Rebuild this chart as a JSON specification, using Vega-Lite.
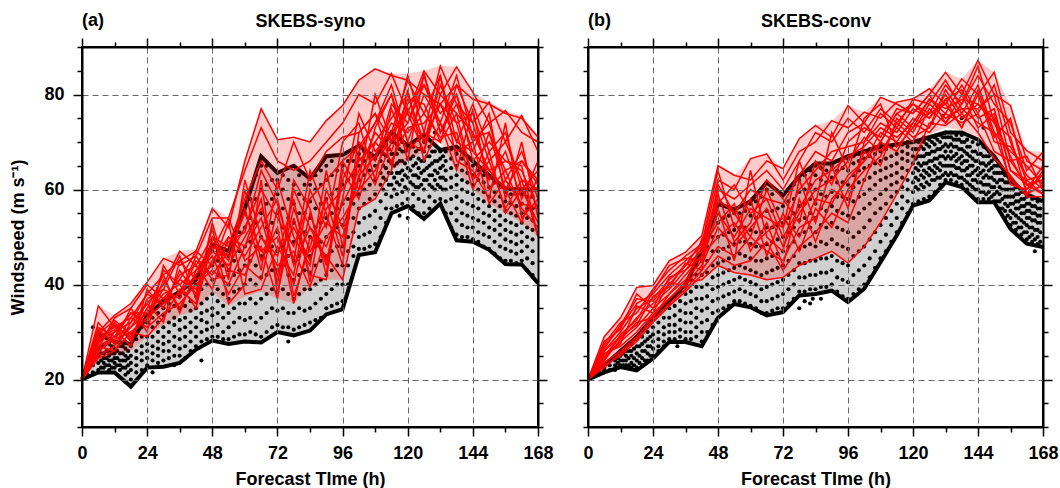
{
"$schema": "https://vega.github.io/schema/vega-lite/v6.json",
"padding": {"left": 8, "top": 11, "right": 2, "bottom": 0},
"autosize": {"type": "pad"},
"background": "white",
"bounds": "flush",
"spacing": 50,
"config": {
 "font": "Liberation Sans",
 "axis": {"labelFont": "Liberation Sans", "labelFontSize": 18, "labelFontWeight": "bold", "labelColor": "black", "titleFont": "Liberation Sans", "titleFontSize": 18, "titleFontWeight": "bold", "titleColor": "black", "tickColor": "black", "tickWidth": 1.5, "domainColor": "black", "domainWidth": 2, "gridColor": "#666666", "gridDash": [6, 4], "gridWidth": 1},
 "title": {"font": "Liberation Sans", "fontSize": 18, "fontWeight": "bold", "color": "black", "anchor": "start", "frame": "group", "offset": -18},
 "view": {"stroke": "black", "strokeWidth": 2}
},
"datasets": {
"aEnv": [{"t":0,"lo":20,"hi":20},{"t":6,"lo":21.5,"hi":29.5},{"t":12,"lo":21.5,"hi":28},{"t":18,"lo":18.5,"hi":27.5},{"t":24,"lo":22.5,"hi":33.5},{"t":30,"lo":22.7,"hi":36.5},{"t":36,"lo":23.5,"hi":38.5},{"t":42,"lo":26.3,"hi":41},{"t":48,"lo":28.2,"hi":48.5},{"t":54,"lo":27.5,"hi":47},{"t":60,"lo":28,"hi":56},{"t":66,"lo":27.8,"hi":67},{"t":72,"lo":30,"hi":63.5},{"t":78,"lo":29.3,"hi":65},{"t":84,"lo":30.3,"hi":62.3},{"t":90,"lo":33.7,"hi":67},{"t":96,"lo":34.8,"hi":67.3},{"t":102,"lo":46.2,"hi":69.2},{"t":108,"lo":46.8,"hi":66.8},{"t":114,"lo":55,"hi":72},{"t":120,"lo":56.5,"hi":69.3},{"t":126,"lo":53.8,"hi":71.5},{"t":132,"lo":57,"hi":68.3},{"t":138,"lo":49.3,"hi":69},{"t":144,"lo":49,"hi":66},{"t":150,"lo":47.3,"hi":63},{"t":156,"lo":44.3,"hi":60.2},{"t":162,"lo":44.2,"hi":60},{"t":168,"lo":40.3,"hi":60}],
"aBand": [{"t":0,"lo":20,"hi":20},{"t":6,"lo":24,"hi":35.5},{"t":12,"lo":25,"hi":33.5},{"t":18,"lo":26,"hi":36},{"t":24,"lo":29,"hi":40.5},{"t":30,"lo":31.5,"hi":45.5},{"t":36,"lo":33.5,"hi":47},{"t":42,"lo":34.5,"hi":47.5},{"t":48,"lo":38.5,"hi":56.5},{"t":54,"lo":35.5,"hi":54},{"t":60,"lo":37.5,"hi":66.5},{"t":66,"lo":38.5,"hi":77},{"t":72,"lo":37,"hi":70.5},{"t":78,"lo":36,"hi":71},{"t":84,"lo":39.5,"hi":70},{"t":90,"lo":41,"hi":74.5},{"t":96,"lo":41,"hi":77.7},{"t":102,"lo":56,"hi":83.3},{"t":108,"lo":58,"hi":85.4},{"t":114,"lo":64,"hi":84.4},{"t":120,"lo":66,"hi":84.4},{"t":126,"lo":68,"hi":85},{"t":132,"lo":70,"hi":86.1},{"t":138,"lo":64,"hi":85.8},{"t":144,"lo":60,"hi":80.5},{"t":150,"lo":57,"hi":78.4},{"t":156,"lo":55,"hi":76.6},{"t":162,"lo":53,"hi":75.6},{"t":168,"lo":50,"hi":71.4}],
"aRed": [
{"m":1,"t":0,"v":20},{"m":1,"t":6,"v":35.5},{"m":1,"t":12,"v":31},{"m":1,"t":18,"v":33},{"m":1,"t":24,"v":38},{"m":1,"t":30,"v":42},{"m":1,"t":36,"v":45},{"m":1,"t":42,"v":47},{"m":1,"t":48,"v":56},{"m":1,"t":54,"v":52},{"m":1,"t":60,"v":66},{"m":1,"t":66,"v":77},{"m":1,"t":72,"v":70.5},{"m":1,"t":78,"v":71},{"m":1,"t":84,"v":70},{"m":1,"t":90,"v":74.5},{"m":1,"t":96,"v":77.7},{"m":1,"t":102,"v":83},{"m":1,"t":108,"v":85.4},{"m":1,"t":114,"v":84},{"m":1,"t":120,"v":83},{"m":1,"t":126,"v":80},{"m":1,"t":132,"v":78},{"m":1,"t":138,"v":82},{"m":1,"t":144,"v":79},{"m":1,"t":150,"v":78},{"m":1,"t":156,"v":76},{"m":1,"t":162,"v":75},{"m":1,"t":168,"v":71},
{"m":2,"t":0,"v":20},{"m":2,"t":6,"v":30},{"m":2,"t":12,"v":33.5},{"m":2,"t":18,"v":36},{"m":2,"t":24,"v":40.5},{"m":2,"t":30,"v":45.5},{"m":2,"t":36,"v":44},{"m":2,"t":42,"v":46},{"m":2,"t":48,"v":54},{"m":2,"t":54,"v":54},{"m":2,"t":60,"v":64},{"m":2,"t":66,"v":73},{"m":2,"t":72,"v":66},{"m":2,"t":78,"v":64},{"m":2,"t":84,"v":66},{"m":2,"t":90,"v":70},{"m":2,"t":96,"v":74},{"m":2,"t":102,"v":80},{"m":2,"t":108,"v":78},{"m":2,"t":114,"v":84.4},{"m":2,"t":120,"v":76},{"m":2,"t":126,"v":85},{"m":2,"t":132,"v":80},{"m":2,"t":138,"v":85.8},{"m":2,"t":144,"v":80.5},{"m":2,"t":150,"v":74},{"m":2,"t":156,"v":76.6},{"m":2,"t":162,"v":72},{"m":2,"t":168,"v":70},
{"m":3,"t":0,"v":20},{"m":3,"t":6,"v":28},{"m":3,"t":12,"v":30},{"m":3,"t":18,"v":32},{"m":3,"t":24,"v":36},{"m":3,"t":30,"v":40},{"m":3,"t":36,"v":47},{"m":3,"t":42,"v":44},{"m":3,"t":48,"v":50},{"m":3,"t":54,"v":48},{"m":3,"t":60,"v":58},{"m":3,"t":66,"v":66},{"m":3,"t":72,"v":60},{"m":3,"t":78,"v":70},{"m":3,"t":84,"v":62},{"m":3,"t":90,"v":68},{"m":3,"t":96,"v":71},{"m":3,"t":102,"v":72},{"m":3,"t":108,"v":76},{"m":3,"t":114,"v":70},{"m":3,"t":120,"v":84},{"m":3,"t":126,"v":72},{"m":3,"t":132,"v":86},{"m":3,"t":138,"v":78},{"m":3,"t":144,"v":74},{"m":3,"t":150,"v":78.4},{"m":3,"t":156,"v":70},{"m":3,"t":162,"v":75.6},{"m":3,"t":168,"v":68},
{"m":4,"t":0,"v":20},{"m":4,"t":6,"v":27},{"m":4,"t":12,"v":29},{"m":4,"t":18,"v":31},{"m":4,"t":24,"v":34},{"m":4,"t":30,"v":38},{"m":4,"t":36,"v":40},{"m":4,"t":42,"v":43},{"m":4,"t":48,"v":48},{"m":4,"t":54,"v":46},{"m":4,"t":60,"v":52},{"m":4,"t":66,"v":60},{"m":4,"t":72,"v":54},{"m":4,"t":78,"v":48},{"m":4,"t":84,"v":58},{"m":4,"t":90,"v":62},{"m":4,"t":96,"v":66},{"m":4,"t":102,"v":69},{"m":4,"t":108,"v":74},{"m":4,"t":114,"v":82},{"m":4,"t":120,"v":70},{"m":4,"t":126,"v":80},{"m":4,"t":132,"v":74},{"m":4,"t":138,"v":84},{"m":4,"t":144,"v":71},{"m":4,"t":150,"v":72},{"m":4,"t":156,"v":64},{"m":4,"t":162,"v":66},{"m":4,"t":168,"v":62},
{"m":5,"t":0,"v":20},{"m":5,"t":6,"v":26},{"m":5,"t":12,"v":28.5},{"m":5,"t":18,"v":30},{"m":5,"t":24,"v":33},{"m":5,"t":30,"v":36},{"m":5,"t":36,"v":38},{"m":5,"t":42,"v":42},{"m":5,"t":48,"v":47},{"m":5,"t":54,"v":44},{"m":5,"t":60,"v":50},{"m":5,"t":66,"v":56},{"m":5,"t":72,"v":47},{"m":5,"t":78,"v":52},{"m":5,"t":84,"v":45},{"m":5,"t":90,"v":56},{"m":5,"t":96,"v":60},{"m":5,"t":102,"v":66},{"m":5,"t":108,"v":70},{"m":5,"t":114,"v":75},{"m":5,"t":120,"v":80},{"m":5,"t":126,"v":70},{"m":5,"t":132,"v":82},{"m":5,"t":138,"v":74},{"m":5,"t":144,"v":76},{"m":5,"t":150,"v":66},{"m":5,"t":156,"v":70},{"m":5,"t":162,"v":62},{"m":5,"t":168,"v":60},
{"m":6,"t":0,"v":20},{"m":6,"t":6,"v":29},{"m":6,"t":12,"v":31},{"m":6,"t":18,"v":29},{"m":6,"t":24,"v":35},{"m":6,"t":30,"v":37},{"m":6,"t":36,"v":41},{"m":6,"t":42,"v":39},{"m":6,"t":48,"v":45},{"m":6,"t":54,"v":50},{"m":6,"t":60,"v":46},{"m":6,"t":66,"v":52},{"m":6,"t":72,"v":58},{"m":6,"t":78,"v":44},{"m":6,"t":84,"v":52},{"m":6,"t":90,"v":48},{"m":6,"t":96,"v":57},{"m":6,"t":102,"v":64},{"m":6,"t":108,"v":72},{"m":6,"t":114,"v":68},{"m":6,"t":120,"v":78},{"m":6,"t":126,"v":82},{"m":6,"t":132,"v":76},{"m":6,"t":138,"v":80},{"m":6,"t":144,"v":70},{"m":6,"t":150,"v":74},{"m":6,"t":156,"v":62},{"m":6,"t":162,"v":68},{"m":6,"t":168,"v":58},
{"m":7,"t":0,"v":20},{"m":7,"t":6,"v":25},{"m":7,"t":12,"v":27},{"m":7,"t":18,"v":33},{"m":7,"t":24,"v":31},{"m":7,"t":30,"v":34},{"m":7,"t":36,"v":36},{"m":7,"t":42,"v":40},{"m":7,"t":48,"v":43},{"m":7,"t":54,"v":40},{"m":7,"t":60,"v":48},{"m":7,"t":66,"v":54},{"m":7,"t":72,"v":42},{"m":7,"t":78,"v":56},{"m":7,"t":84,"v":47},{"m":7,"t":90,"v":53},{"m":7,"t":96,"v":50},{"m":7,"t":102,"v":63},{"m":7,"t":108,"v":67},{"m":7,"t":114,"v":74},{"m":7,"t":120,"v":72},{"m":7,"t":126,"v":76},{"m":7,"t":132,"v":84},{"m":7,"t":138,"v":70},{"m":7,"t":144,"v":78},{"m":7,"t":150,"v":68},{"m":7,"t":156,"v":72},{"m":7,"t":162,"v":60},{"m":7,"t":168,"v":64},
{"m":8,"t":0,"v":20},{"m":8,"t":6,"v":27.5},{"m":8,"t":12,"v":32},{"m":8,"t":18,"v":28},{"m":8,"t":24,"v":37},{"m":8,"t":30,"v":39},{"m":8,"t":36,"v":37},{"m":8,"t":42,"v":45},{"m":8,"t":48,"v":42},{"m":8,"t":54,"v":47},{"m":8,"t":60,"v":55},{"m":8,"t":66,"v":47},{"m":8,"t":72,"v":50},{"m":8,"t":78,"v":40},{"m":8,"t":84,"v":55},{"m":8,"t":90,"v":44},{"m":8,"t":96,"v":62},{"m":8,"t":102,"v":70},{"m":8,"t":108,"v":66},{"m":8,"t":114,"v":78},{"m":8,"t":120,"v":74},{"m":8,"t":126,"v":84},{"m":8,"t":132,"v":72},{"m":8,"t":138,"v":80},{"m":8,"t":144,"v":66},{"m":8,"t":150,"v":70},{"m":8,"t":156,"v":66},{"m":8,"t":162,"v":64},{"m":8,"t":168,"v":56},
{"m":9,"t":0,"v":20},{"m":9,"t":6,"v":24.5},{"m":9,"t":12,"v":26},{"m":9,"t":18,"v":30},{"m":9,"t":24,"v":29},{"m":9,"t":30,"v":33},{"m":9,"t":36,"v":39},{"m":9,"t":42,"v":36},{"m":9,"t":48,"v":50},{"m":9,"t":54,"v":43},{"m":9,"t":60,"v":42},{"m":9,"t":66,"v":50},{"m":9,"t":72,"v":44},{"m":9,"t":78,"v":47},{"m":9,"t":84,"v":39.5},{"m":9,"t":90,"v":50},{"m":9,"t":96,"v":54},{"m":9,"t":102,"v":60},{"m":9,"t":108,"v":64},{"m":9,"t":114,"v":72},{"m":9,"t":120,"v":76},{"m":9,"t":126,"v":68},{"m":9,"t":132,"v":80},{"m":9,"t":138,"v":76},{"m":9,"t":144,"v":72},{"m":9,"t":150,"v":64},{"m":9,"t":156,"v":60},{"m":9,"t":162,"v":66},{"m":9,"t":168,"v":61},
{"m":10,"t":0,"v":20},{"m":10,"t":6,"v":31},{"m":10,"t":12,"v":29},{"m":10,"t":18,"v":34},{"m":10,"t":24,"v":32},{"m":10,"t":30,"v":41},{"m":10,"t":36,"v":35},{"m":10,"t":42,"v":42},{"m":10,"t":48,"v":46},{"m":10,"t":54,"v":38},{"m":10,"t":60,"v":44},{"m":10,"t":66,"v":41},{"m":10,"t":72,"v":56},{"m":10,"t":78,"v":37.5},{"m":10,"t":84,"v":48},{"m":10,"t":90,"v":58},{"m":10,"t":96,"v":46},{"m":10,"t":102,"v":67},{"m":10,"t":108,"v":61},{"m":10,"t":114,"v":70},{"m":10,"t":120,"v":79},{"m":10,"t":126,"v":78},{"m":10,"t":132,"v":70},{"m":10,"t":138,"v":82},{"m":10,"t":144,"v":74},{"m":10,"t":150,"v":62},{"m":10,"t":156,"v":68},{"m":10,"t":162,"v":58},{"m":10,"t":168,"v":66},
{"m":11,"t":0,"v":20},{"m":11,"t":6,"v":28.5},{"m":11,"t":12,"v":30.5},{"m":11,"t":18,"v":27},{"m":11,"t":24,"v":39},{"m":11,"t":30,"v":35},{"m":11,"t":36,"v":43},{"m":11,"t":42,"v":38},{"m":11,"t":48,"v":52},{"m":11,"t":54,"v":36},{"m":11,"t":60,"v":40},{"m":11,"t":66,"v":62},{"m":11,"t":72,"v":38},{"m":11,"t":78,"v":54},{"m":11,"t":84,"v":42},{"m":11,"t":90,"v":41},{"m":11,"t":96,"v":64},{"m":11,"t":102,"v":58},{"m":11,"t":108,"v":70},{"m":11,"t":114,"v":66},{"m":11,"t":120,"v":73},{"m":11,"t":126,"v":74},{"m":11,"t":132,"v":78},{"m":11,"t":138,"v":70},{"m":11,"t":144,"v":68},{"m":11,"t":150,"v":76},{"m":11,"t":156,"v":58},{"m":11,"t":162,"v":70},{"m":11,"t":168,"v":54},
{"m":12,"t":0,"v":20},{"m":12,"t":6,"v":26.5},{"m":12,"t":12,"v":33},{"m":12,"t":18,"v":35},{"m":12,"t":24,"v":30},{"m":12,"t":30,"v":44},{"m":12,"t":36,"v":38},{"m":12,"t":42,"v":46},{"m":12,"t":48,"v":41},{"m":12,"t":54,"v":42},{"m":12,"t":60,"v":60},{"m":12,"t":66,"v":45},{"m":12,"t":72,"v":52},{"m":12,"t":78,"v":36},{"m":12,"t":84,"v":50},{"m":12,"t":90,"v":46},{"m":12,"t":96,"v":41},{"m":12,"t":102,"v":56},{"m":12,"t":108,"v":58},{"m":12,"t":114,"v":64},{"m":12,"t":120,"v":81},{"m":12,"t":126,"v":66},{"m":12,"t":132,"v":74},{"m":12,"t":138,"v":64},{"m":12,"t":144,"v":77},{"m":12,"t":150,"v":60},{"m":12,"t":156,"v":64},{"m":12,"t":162,"v":56},{"m":12,"t":168,"v":52},
{"m":13,"t":0,"v":20},{"m":13,"t":6,"v":30.5},{"m":13,"t":12,"v":27.5},{"m":13,"t":18,"v":31},{"m":13,"t":24,"v":36},{"m":13,"t":30,"v":32},{"m":13,"t":36,"v":45},{"m":13,"t":42,"v":41},{"m":13,"t":48,"v":44},{"m":13,"t":54,"v":53},{"m":13,"t":60,"v":38},{"m":13,"t":66,"v":39},{"m":13,"t":72,"v":48},{"m":13,"t":78,"v":42},{"m":13,"t":84,"v":60},{"m":13,"t":90,"v":52},{"m":13,"t":96,"v":70},{"m":13,"t":102,"v":74},{"m":13,"t":108,"v":62},{"m":13,"t":114,"v":77},{"m":13,"t":120,"v":68},{"m":13,"t":126,"v":72},{"m":13,"t":132,"v":70},{"m":13,"t":138,"v":76},{"m":13,"t":144,"v":62},{"m":13,"t":150,"v":66},{"m":13,"t":156,"v":56},{"m":13,"t":162,"v":62},{"m":13,"t":168,"v":50},
{"m":14,"t":0,"v":20},{"m":14,"t":6,"v":29.5},{"m":14,"t":12,"v":32.5},{"m":14,"t":18,"v":29.5},{"m":14,"t":24,"v":33},{"m":14,"t":30,"v":43},{"m":14,"t":36,"v":40},{"m":14,"t":42,"v":35},{"m":14,"t":48,"v":49},{"m":14,"t":54,"v":45},{"m":14,"t":60,"v":56},{"m":14,"t":66,"v":43},{"m":14,"t":72,"v":62},{"m":14,"t":78,"v":50},{"m":14,"t":84,"v":44},{"m":14,"t":90,"v":64},{"m":14,"t":96,"v":48},{"m":14,"t":102,"v":68},{"m":14,"t":108,"v":74},{"m":14,"t":114,"v":80},{"m":14,"t":120,"v":70},{"m":14,"t":126,"v":68},{"m":14,"t":132,"v":84},{"m":14,"t":138,"v":66},{"m":14,"t":144,"v":64},{"m":14,"t":150,"v":58},{"m":14,"t":156,"v":74},{"m":14,"t":162,"v":54},{"m":14,"t":168,"v":58},
{"m":15,"t":0,"v":20},{"m":15,"t":6,"v":27},{"m":15,"t":12,"v":26},{"m":15,"t":18,"v":32},{"m":15,"t":24,"v":38},{"m":15,"t":30,"v":36},{"m":15,"t":36,"v":42},{"m":15,"t":42,"v":44},{"m":15,"t":48,"v":39},{"m":15,"t":54,"v":50},{"m":15,"t":60,"v":48},{"m":15,"t":66,"v":58},{"m":15,"t":72,"v":40},{"m":15,"t":78,"v":60},{"m":15,"t":84,"v":52},{"m":15,"t":90,"v":45},{"m":15,"t":96,"v":58},{"m":15,"t":102,"v":76},{"m":15,"t":108,"v":68},{"m":15,"t":114,"v":72},{"m":15,"t":120,"v":83},{"m":15,"t":126,"v":76},{"m":15,"t":132,"v":71},{"m":15,"t":138,"v":72},{"m":15,"t":144,"v":60},{"m":15,"t":150,"v":68},{"m":15,"t":156,"v":55},{"m":15,"t":162,"v":60},{"m":15,"t":168,"v":53},
{"m":16,"t":0,"v":20},{"m":16,"t":6,"v":25.5},{"m":16,"t":12,"v":30},{"m":16,"t":18,"v":34},{"m":16,"t":24,"v":34},{"m":16,"t":30,"v":39},{"m":16,"t":36,"v":46},{"m":16,"t":42,"v":37},{"m":16,"t":48,"v":53},{"m":16,"t":54,"v":41},{"m":16,"t":60,"v":62},{"m":16,"t":66,"v":50},{"m":16,"t":72,"v":46},{"m":16,"t":78,"v":58},{"m":16,"t":84,"v":40.5},{"m":16,"t":90,"v":60},{"m":16,"t":96,"v":52},{"m":16,"t":102,"v":62},{"m":16,"t":108,"v":80},{"m":16,"t":114,"v":70},{"m":16,"t":120,"v":74},{"m":16,"t":126,"v":82},{"m":16,"t":132,"v":74},{"m":16,"t":138,"v":68},{"m":16,"t":144,"v":70},{"m":16,"t":150,"v":57},{"m":16,"t":156,"v":62},{"m":16,"t":162,"v":57},{"m":16,"t":168,"v":56},
{"m":17,"t":0,"v":20},{"m":17,"t":6,"v":32},{"m":17,"t":12,"v":28},{"m":17,"t":18,"v":35},{"m":17,"t":24,"v":40},{"m":17,"t":30,"v":37},{"m":17,"t":36,"v":41},{"m":17,"t":42,"v":47},{"m":17,"t":48,"v":44},{"m":17,"t":54,"v":49},{"m":17,"t":60,"v":51},{"m":17,"t":66,"v":64},{"m":17,"t":72,"v":57},{"m":17,"t":78,"v":45},{"m":17,"t":84,"v":64},{"m":17,"t":90,"v":55},{"m":17,"t":96,"v":44},{"m":17,"t":102,"v":72},{"m":17,"t":108,"v":76},{"m":17,"t":114,"v":65},{"m":17,"t":120,"v":77},{"m":17,"t":126,"v":70},{"m":17,"t":132,"v":78},{"m":17,"t":138,"v":74},{"m":17,"t":144,"v":62},{"m":17,"t":150,"v":72},{"m":17,"t":156,"v":60},{"m":17,"t":162,"v":53},{"m":17,"t":168,"v":63},
{"m":18,"t":0,"v":20},{"m":18,"t":6,"v":28},{"m":18,"t":12,"v":31.5},{"m":18,"t":18,"v":28.5},{"m":18,"t":24,"v":35},{"m":18,"t":30,"v":42},{"m":18,"t":36,"v":34},{"m":18,"t":42,"v":43},{"m":18,"t":48,"v":47},{"m":18,"t":54,"v":54},{"m":18,"t":60,"v":45},{"m":18,"t":66,"v":48},{"m":18,"t":72,"v":37},{"m":18,"t":78,"v":62},{"m":18,"t":84,"v":56},{"m":18,"t":90,"v":42},{"m":18,"t":96,"v":66},{"m":18,"t":102,"v":60},{"m":18,"t":108,"v":73},{"m":18,"t":114,"v":80},{"m":18,"t":120,"v":66},{"m":18,"t":126,"v":84.5},{"m":18,"t":132,"v":72},{"m":18,"t":138,"v":78},{"m":18,"t":144,"v":68},{"m":18,"t":150,"v":64},{"m":18,"t":156,"v":66},{"m":18,"t":162,"v":65},{"m":18,"t":168,"v":50}
],
"aDot": [
{"t":2,"v":21},{"t":2,"v":22},{"t":2,"v":23},
{"t":4,"v":21.5},{"t":4,"v":23},{"t":4,"v":24.5},{"t":4,"v":26},{"t":4,"v":31},
{"t":6,"v":22},{"t":6,"v":23.5},{"t":6,"v":25},{"t":6,"v":26.5},{"t":6,"v":28},
{"t":7,"v":22.5},{"t":7,"v":24},{"t":7,"v":25.5},{"t":7,"v":27},
{"t":8,"v":22.5},{"t":8,"v":23.5},{"t":8,"v":24.5},{"t":8,"v":25.5},{"t":8,"v":27},
{"t":9,"v":23},{"t":9,"v":24.5},{"t":9,"v":26},
{"t":10,"v":22},{"t":10,"v":23},{"t":10,"v":24},{"t":10,"v":25},{"t":10,"v":26},{"t":10,"v":27.5},
{"t":11,"v":22.5},{"t":11,"v":24},{"t":11,"v":25.5},{"t":11,"v":27},
{"t":12,"v":22.5},{"t":12,"v":23.5},{"t":12,"v":24.5},{"t":12,"v":25.5},{"t":12,"v":26.5},{"t":12,"v":28},
{"t":13,"v":23},{"t":13,"v":24.5},{"t":13,"v":26},
{"t":14,"v":22},{"t":14,"v":23},{"t":14,"v":24},{"t":14,"v":25.5},{"t":14,"v":27},
{"t":15,"v":22.5},{"t":15,"v":24},{"t":15,"v":25.5},{"t":15,"v":27},
{"t":16,"v":21},{"t":16,"v":22.5},{"t":16,"v":24},{"t":16,"v":25},{"t":16,"v":26.5},{"t":16,"v":28},
{"t":17,"v":21.5},{"t":17,"v":23},{"t":17,"v":24.5},{"t":17,"v":26},
{"t":18,"v":20},{"t":18,"v":22},{"t":18,"v":23.5},{"t":18,"v":25},{"t":18,"v":27},
{"t":20,"v":21.5},{"t":20,"v":23},{"t":20,"v":24.5},{"t":20,"v":26},{"t":20,"v":28.5},
{"t":22,"v":22},{"t":22,"v":24},{"t":22,"v":25.5},{"t":22,"v":27},{"t":22,"v":29},{"t":22,"v":31},
{"t":24,"v":23},{"t":24,"v":24.5},{"t":24,"v":26},{"t":24,"v":27.5},{"t":24,"v":29},{"t":24,"v":32},
{"t":26,"v":21.5},{"t":26,"v":24},{"t":26,"v":25.5},{"t":26,"v":27},{"t":26,"v":29},{"t":26,"v":31},{"t":26,"v":33},
{"t":28,"v":23.5},{"t":28,"v":25},{"t":28,"v":26.5},{"t":28,"v":28},{"t":28,"v":30},{"t":28,"v":32},{"t":28,"v":34},
{"t":30,"v":24},{"t":30,"v":26},{"t":30,"v":27.5},{"t":30,"v":29},{"t":30,"v":31},{"t":30,"v":33.5},{"t":30,"v":35},
{"t":32,"v":24.5},{"t":32,"v":26},{"t":32,"v":28},{"t":32,"v":30},{"t":32,"v":32},{"t":32,"v":34.5},{"t":32,"v":36},
{"t":34,"v":23},{"t":34,"v":25},{"t":34,"v":27},{"t":34,"v":29},{"t":34,"v":31.5},{"t":34,"v":33},{"t":34,"v":35.5},
{"t":36,"v":25},{"t":36,"v":26.5},{"t":36,"v":28.5},{"t":36,"v":30.5},{"t":36,"v":32.5},{"t":36,"v":35},{"t":36,"v":37.5},
{"t":38,"v":24.5},{"t":38,"v":27},{"t":38,"v":29},{"t":38,"v":31},{"t":38,"v":33},{"t":38,"v":35.5},{"t":38,"v":38},
{"t":40,"v":26},{"t":40,"v":28},{"t":40,"v":30},{"t":40,"v":32},{"t":40,"v":34.5},{"t":40,"v":36.5},{"t":40,"v":39},
{"t":42,"v":27},{"t":42,"v":29},{"t":42,"v":31},{"t":42,"v":33},{"t":42,"v":35},{"t":42,"v":37.5},{"t":42,"v":40},
{"t":44,"v":24},{"t":44,"v":28},{"t":44,"v":30},{"t":44,"v":32.5},{"t":44,"v":34},{"t":44,"v":36},{"t":44,"v":39},{"t":44,"v":42},
{"t":46,"v":28.5},{"t":46,"v":30.5},{"t":46,"v":32},{"t":46,"v":34.5},{"t":46,"v":37},{"t":46,"v":40},{"t":46,"v":43},{"t":46,"v":45},
{"t":48,"v":29},{"t":48,"v":31},{"t":48,"v":33.5},{"t":48,"v":35},{"t":48,"v":38},{"t":48,"v":41},{"t":48,"v":44},{"t":48,"v":47},
{"t":50,"v":29},{"t":50,"v":31.5},{"t":50,"v":34},{"t":50,"v":36.5},{"t":50,"v":39},{"t":50,"v":42},{"t":50,"v":45},{"t":50,"v":47},
{"t":52,"v":28.5},{"t":52,"v":30},{"t":52,"v":33},{"t":52,"v":35.5},{"t":52,"v":38},{"t":52,"v":41.5},{"t":52,"v":44},{"t":52,"v":46.5},
{"t":54,"v":28.5},{"t":54,"v":31},{"t":54,"v":34},{"t":54,"v":37},{"t":54,"v":40},{"t":54,"v":43},{"t":54,"v":46},
{"t":56,"v":29},{"t":56,"v":32},{"t":56,"v":35},{"t":56,"v":38.5},{"t":56,"v":42},{"t":56,"v":45},{"t":56,"v":49},
{"t":58,"v":29.5},{"t":58,"v":33},{"t":58,"v":36},{"t":58,"v":39},{"t":58,"v":43},{"t":58,"v":47},{"t":58,"v":51},
{"t":60,"v":29.5},{"t":60,"v":32.5},{"t":60,"v":36},{"t":60,"v":40},{"t":60,"v":44},{"t":60,"v":48},{"t":60,"v":52},{"t":60,"v":55},
{"t":62,"v":30},{"t":62,"v":33},{"t":62,"v":37},{"t":62,"v":41},{"t":62,"v":45},{"t":62,"v":49},{"t":62,"v":54},{"t":62,"v":58},
{"t":64,"v":29.5},{"t":64,"v":32},{"t":64,"v":36},{"t":64,"v":40},{"t":64,"v":44},{"t":64,"v":48},{"t":64,"v":53},{"t":64,"v":58},{"t":64,"v":63},
{"t":66,"v":29},{"t":66,"v":33},{"t":66,"v":37},{"t":66,"v":41.5},{"t":66,"v":46},{"t":66,"v":50},{"t":66,"v":55},{"t":66,"v":60},{"t":66,"v":65},
{"t":68,"v":30},{"t":68,"v":34},{"t":68,"v":38},{"t":68,"v":42},{"t":68,"v":47},{"t":68,"v":52},{"t":68,"v":57},{"t":68,"v":61},{"t":68,"v":65},
{"t":70,"v":31},{"t":70,"v":35},{"t":70,"v":39},{"t":70,"v":43},{"t":70,"v":48},{"t":70,"v":53},{"t":70,"v":58},{"t":70,"v":62},
{"t":72,"v":31.5},{"t":72,"v":34.5},{"t":72,"v":38.5},{"t":72,"v":43},{"t":72,"v":47},{"t":72,"v":51},{"t":72,"v":55},{"t":72,"v":59},{"t":72,"v":62},
{"t":74,"v":31},{"t":74,"v":35},{"t":74,"v":39},{"t":74,"v":44},{"t":74,"v":48},{"t":74,"v":52},{"t":74,"v":56},{"t":74,"v":60},{"t":74,"v":63},
{"t":76,"v":28},{"t":76,"v":31},{"t":76,"v":34},{"t":76,"v":38},{"t":76,"v":42},{"t":76,"v":46},{"t":76,"v":50},{"t":76,"v":54},{"t":76,"v":58},{"t":76,"v":62},
{"t":78,"v":30.5},{"t":78,"v":34},{"t":78,"v":37},{"t":78,"v":41},{"t":78,"v":45},{"t":78,"v":49},{"t":78,"v":53},{"t":78,"v":57},{"t":78,"v":61},
{"t":80,"v":31},{"t":80,"v":35},{"t":80,"v":38},{"t":80,"v":42},{"t":80,"v":46},{"t":80,"v":50},{"t":80,"v":55},{"t":80,"v":59},{"t":80,"v":63},
{"t":82,"v":31.5},{"t":82,"v":34.5},{"t":82,"v":39},{"t":82,"v":43},{"t":82,"v":47},{"t":82,"v":51},{"t":82,"v":55},{"t":82,"v":58},{"t":82,"v":61},
{"t":84,"v":32},{"t":84,"v":35},{"t":84,"v":39},{"t":84,"v":42.5},{"t":84,"v":46},{"t":84,"v":50},{"t":84,"v":54},{"t":84,"v":57.5},{"t":84,"v":61},
{"t":86,"v":32.5},{"t":86,"v":36},{"t":86,"v":40},{"t":86,"v":44},{"t":86,"v":48},{"t":86,"v":52},{"t":86,"v":56},{"t":86,"v":60},{"t":86,"v":63},
{"t":88,"v":33},{"t":88,"v":37},{"t":88,"v":41},{"t":88,"v":45},{"t":88,"v":49},{"t":88,"v":53},{"t":88,"v":57},{"t":88,"v":61},{"t":88,"v":64},
{"t":90,"v":35},{"t":90,"v":38},{"t":90,"v":42},{"t":90,"v":46},{"t":90,"v":50},{"t":90,"v":54},{"t":90,"v":58},{"t":90,"v":62},{"t":90,"v":65},
{"t":92,"v":35.5},{"t":92,"v":39},{"t":92,"v":43},{"t":92,"v":47},{"t":92,"v":51},{"t":92,"v":55},{"t":92,"v":59},{"t":92,"v":63},{"t":92,"v":66},
{"t":94,"v":36},{"t":94,"v":40},{"t":94,"v":44},{"t":94,"v":48},{"t":94,"v":52},{"t":94,"v":56},{"t":94,"v":60},{"t":94,"v":64},
{"t":96,"v":36.5},{"t":96,"v":40},{"t":96,"v":44},{"t":96,"v":48},{"t":96,"v":52.5},{"t":96,"v":57},{"t":96,"v":61},{"t":96,"v":65},
{"t":98,"v":40},{"t":98,"v":44},{"t":98,"v":47},{"t":98,"v":50},{"t":98,"v":54},{"t":98,"v":58},{"t":98,"v":62},{"t":98,"v":66},
{"t":100,"v":46},{"t":100,"v":48},{"t":100,"v":51},{"t":100,"v":54},{"t":100,"v":57},{"t":100,"v":60},{"t":100,"v":63},{"t":100,"v":66},{"t":100,"v":68},
{"t":102,"v":47.5},{"t":102,"v":50},{"t":102,"v":53},{"t":102,"v":56},{"t":102,"v":59},{"t":102,"v":62},{"t":102,"v":65},{"t":102,"v":67.5},
{"t":104,"v":47.5},{"t":104,"v":50.5},{"t":104,"v":54},{"t":104,"v":57},{"t":104,"v":60},{"t":104,"v":63},{"t":104,"v":66},{"t":104,"v":68},
{"t":106,"v":48},{"t":106,"v":51},{"t":106,"v":54.5},{"t":106,"v":58},{"t":106,"v":61},{"t":106,"v":64},{"t":106,"v":67},
{"t":108,"v":48.5},{"t":108,"v":52},{"t":108,"v":55.5},{"t":108,"v":59},{"t":108,"v":62},{"t":108,"v":65},{"t":108,"v":66.5},
{"t":110,"v":50},{"t":110,"v":54},{"t":110,"v":57.5},{"t":110,"v":61},{"t":110,"v":63.5},{"t":110,"v":66},{"t":110,"v":68},
{"t":111,"v":60},{"t":111,"v":62.5},{"t":111,"v":65},{"t":111,"v":67.5},
{"t":112,"v":53},{"t":112,"v":56},{"t":112,"v":59},{"t":112,"v":62},{"t":112,"v":64.5},{"t":112,"v":67},{"t":112,"v":69.5},
{"t":113,"v":61},{"t":113,"v":63.5},{"t":113,"v":66},{"t":113,"v":68.5},
{"t":114,"v":56},{"t":114,"v":58.5},{"t":114,"v":61},{"t":114,"v":63.5},{"t":114,"v":65.5},{"t":114,"v":67.5},{"t":114,"v":70},
{"t":115,"v":60},{"t":115,"v":62.5},{"t":115,"v":65},{"t":115,"v":67.5},{"t":115,"v":70},
{"t":116,"v":56.5},{"t":116,"v":59},{"t":116,"v":61.5},{"t":116,"v":63.5},{"t":116,"v":65.5},{"t":116,"v":67.5},{"t":116,"v":69.5},
{"t":117,"v":54.5},{"t":117,"v":61},{"t":117,"v":63.5},{"t":117,"v":66},{"t":117,"v":68.5},
{"t":118,"v":57},{"t":118,"v":59.5},{"t":118,"v":62},{"t":118,"v":64},{"t":118,"v":66},{"t":118,"v":68},{"t":118,"v":70},
{"t":119,"v":60.5},{"t":119,"v":63},{"t":119,"v":65.5},{"t":119,"v":68},
{"t":120,"v":54},{"t":120,"v":58},{"t":120,"v":60},{"t":120,"v":62.5},{"t":120,"v":64.5},{"t":120,"v":66.5},{"t":120,"v":68.5},
{"t":121,"v":61.5},{"t":121,"v":64},{"t":121,"v":66.5},{"t":121,"v":69},
{"t":122,"v":56.5},{"t":122,"v":59},{"t":122,"v":61},{"t":122,"v":63},{"t":122,"v":65},{"t":122,"v":67},{"t":122,"v":69},
{"t":123,"v":60.5},{"t":123,"v":63},{"t":123,"v":65.5},{"t":123,"v":68},
{"t":124,"v":55},{"t":124,"v":58},{"t":124,"v":60.5},{"t":124,"v":62.5},{"t":124,"v":64.5},{"t":124,"v":66.5},{"t":124,"v":68.5},{"t":124,"v":70.5},
{"t":125,"v":61},{"t":125,"v":63.5},{"t":125,"v":66},{"t":125,"v":68.5},
{"t":126,"v":55},{"t":126,"v":57.5},{"t":126,"v":60},{"t":126,"v":62},{"t":126,"v":64},{"t":126,"v":66},{"t":126,"v":68},{"t":126,"v":70},
{"t":127,"v":62},{"t":127,"v":64.5},{"t":127,"v":67},
{"t":128,"v":56},{"t":128,"v":58.5},{"t":128,"v":61},{"t":128,"v":63},{"t":128,"v":65},{"t":128,"v":67},{"t":128,"v":69},
{"t":129,"v":60.5},{"t":129,"v":63},{"t":129,"v":65.5},{"t":129,"v":68},
{"t":130,"v":57.5},{"t":130,"v":60},{"t":130,"v":62},{"t":130,"v":64},{"t":130,"v":66},{"t":130,"v":68},{"t":130,"v":72},
{"t":131,"v":61},{"t":131,"v":63.5},{"t":131,"v":66},
{"t":132,"v":58},{"t":132,"v":60.5},{"t":132,"v":62.5},{"t":132,"v":64.5},{"t":132,"v":66.5},{"t":132,"v":68},
{"t":133,"v":60},{"t":133,"v":62.5},{"t":133,"v":65},{"t":133,"v":67},
{"t":134,"v":55},{"t":134,"v":57.5},{"t":134,"v":60},{"t":134,"v":62},{"t":134,"v":64},{"t":134,"v":66},{"t":134,"v":68},
{"t":136,"v":52},{"t":136,"v":55},{"t":136,"v":58},{"t":136,"v":60.5},{"t":136,"v":62.5},{"t":136,"v":64.5},{"t":136,"v":66.5},{"t":136,"v":68.5},
{"t":138,"v":50.5},{"t":138,"v":53.5},{"t":138,"v":56},{"t":138,"v":58.5},{"t":138,"v":61},{"t":138,"v":63},{"t":138,"v":65},{"t":138,"v":67.5},
{"t":140,"v":50},{"t":140,"v":52.5},{"t":140,"v":55},{"t":140,"v":57.5},{"t":140,"v":60},{"t":140,"v":62},{"t":140,"v":64},{"t":140,"v":66.5},
{"t":142,"v":50},{"t":142,"v":52},{"t":142,"v":54.5},{"t":142,"v":57},{"t":142,"v":59.5},{"t":142,"v":61.5},{"t":142,"v":63.5},{"t":142,"v":65.5},
{"t":144,"v":49.5},{"t":144,"v":52},{"t":144,"v":54},{"t":144,"v":56.5},{"t":144,"v":59},{"t":144,"v":61},{"t":144,"v":63},{"t":144,"v":65},
{"t":146,"v":49},{"t":146,"v":51},{"t":146,"v":53.5},{"t":146,"v":56},{"t":146,"v":58},{"t":146,"v":60},{"t":146,"v":62},{"t":146,"v":64},
{"t":148,"v":48},{"t":148,"v":50.5},{"t":148,"v":53},{"t":148,"v":55},{"t":148,"v":57.5},{"t":148,"v":59.5},{"t":148,"v":61.5},{"t":148,"v":63},
{"t":150,"v":47.5},{"t":150,"v":50},{"t":150,"v":52},{"t":150,"v":54.5},{"t":150,"v":56.5},{"t":150,"v":58.5},{"t":150,"v":60.5},{"t":150,"v":62.5},
{"t":152,"v":46.5},{"t":152,"v":49},{"t":152,"v":51.5},{"t":152,"v":53.5},{"t":152,"v":55.5},{"t":152,"v":57.5},{"t":152,"v":59.5},{"t":152,"v":61.5},
{"t":154,"v":45.5},{"t":154,"v":48},{"t":154,"v":50.5},{"t":154,"v":52.5},{"t":154,"v":54.5},{"t":154,"v":56.5},{"t":154,"v":58.5},{"t":154,"v":60.5},
{"t":156,"v":45},{"t":156,"v":47.5},{"t":156,"v":49.5},{"t":156,"v":51.5},{"t":156,"v":53.5},{"t":156,"v":55.5},{"t":156,"v":57.5},{"t":156,"v":59.5},
{"t":158,"v":45},{"t":158,"v":47},{"t":158,"v":49},{"t":158,"v":51},{"t":158,"v":53},{"t":158,"v":55},{"t":158,"v":57},{"t":158,"v":59},
{"t":160,"v":44.5},{"t":160,"v":46.5},{"t":160,"v":48.5},{"t":160,"v":50.5},{"t":160,"v":52.5},{"t":160,"v":54.5},{"t":160,"v":56.5},{"t":160,"v":59},
{"t":162,"v":45},{"t":162,"v":47},{"t":162,"v":49},{"t":162,"v":51},{"t":162,"v":53},{"t":162,"v":55},{"t":162,"v":57},{"t":162,"v":59},
{"t":164,"v":43},{"t":164,"v":45.5},{"t":164,"v":48},{"t":164,"v":50},{"t":164,"v":52},{"t":164,"v":54},{"t":164,"v":56},{"t":164,"v":58.5},
{"t":166,"v":42},{"t":166,"v":44.5},{"t":166,"v":47},{"t":166,"v":49.5},{"t":166,"v":51.5},{"t":166,"v":53.5},{"t":166,"v":56},{"t":166,"v":58.5}
],
"bEnv": [{"t":0,"lo":20,"hi":20},{"t":6,"lo":21.5,"hi":23},{"t":12,"lo":22.6,"hi":26},{"t":18,"lo":21.9,"hi":29},{"t":24,"lo":24.4,"hi":33},{"t":30,"lo":27.9,"hi":36.5},{"t":36,"lo":27.9,"hi":40},{"t":42,"lo":27,"hi":47},{"t":48,"lo":33,"hi":57},{"t":54,"lo":35.9,"hi":55.8},{"t":60,"lo":35.2,"hi":57.5},{"t":66,"lo":33.5,"hi":61.5},{"t":72,"lo":34.2,"hi":58.8},{"t":78,"lo":37.7,"hi":62.8},{"t":84,"lo":38,"hi":65.5},{"t":90,"lo":38.7,"hi":65.5},{"t":96,"lo":36.3,"hi":67},{"t":102,"lo":39.1,"hi":68},{"t":108,"lo":44.7,"hi":69},{"t":114,"lo":50.3,"hi":69.5},{"t":120,"lo":56.6,"hi":70},{"t":126,"lo":57.7,"hi":71},{"t":132,"lo":61.5,"hi":72},{"t":138,"lo":60.5,"hi":72},{"t":144,"lo":57.3,"hi":70.5},{"t":150,"lo":57.3,"hi":67},{"t":156,"lo":51.7,"hi":62},{"t":162,"lo":48.6,"hi":59},{"t":168,"lo":47.9,"hi":57.5}],
"bBand": [{"t":0,"lo":20,"hi":20},{"t":6,"lo":22.5,"hi":29},{"t":12,"lo":25,"hi":33},{"t":18,"lo":28,"hi":39.4},{"t":24,"lo":32,"hi":39.8},{"t":30,"lo":35.5,"hi":45},{"t":36,"lo":38.5,"hi":46.8},{"t":42,"lo":41,"hi":50.3},{"t":48,"lo":44,"hi":65},{"t":54,"lo":42.5,"hi":63},{"t":60,"lo":42,"hi":66.5},{"t":66,"lo":41,"hi":67.5},{"t":72,"lo":41.5,"hi":64.4},{"t":78,"lo":44,"hi":70.7},{"t":84,"lo":45.5,"hi":73.5},{"t":90,"lo":47,"hi":74.5},{"t":96,"lo":44.5,"hi":77.7},{"t":102,"lo":48,"hi":76.3},{"t":108,"lo":53,"hi":79.4},{"t":114,"lo":59,"hi":78.4},{"t":120,"lo":65.5,"hi":79.1},{"t":126,"lo":71.5,"hi":81.2},{"t":132,"lo":73,"hi":84.7},{"t":138,"lo":72.5,"hi":83.3},{"t":144,"lo":71,"hi":87.2},{"t":150,"lo":66.5,"hi":84.7},{"t":156,"lo":61,"hi":77.7},{"t":162,"lo":58.5,"hi":68.2},{"t":168,"lo":58.5,"hi":67.9}],
"bRed": [
{"m":1,"t":0,"v":20},{"m":1,"t":6,"v":29},{"m":1,"t":12,"v":33},{"m":1,"t":18,"v":39.4},{"m":1,"t":24,"v":39.8},{"m":1,"t":30,"v":45},{"m":1,"t":36,"v":46.8},{"m":1,"t":42,"v":50.3},{"m":1,"t":48,"v":65},{"m":1,"t":54,"v":63},{"m":1,"t":60,"v":62},{"m":1,"t":66,"v":66},{"m":1,"t":72,"v":64.4},{"m":1,"t":78,"v":70.7},{"m":1,"t":84,"v":73.5},{"m":1,"t":90,"v":71},{"m":1,"t":96,"v":77.7},{"m":1,"t":102,"v":74},{"m":1,"t":108,"v":79.4},{"m":1,"t":114,"v":78},{"m":1,"t":120,"v":76},{"m":1,"t":126,"v":80},{"m":1,"t":132,"v":84.7},{"m":1,"t":138,"v":80},{"m":1,"t":144,"v":87.2},{"m":1,"t":150,"v":80},{"m":1,"t":156,"v":77.7},{"m":1,"t":162,"v":66},{"m":1,"t":168,"v":64},
{"m":2,"t":0,"v":20},{"m":2,"t":6,"v":27},{"m":2,"t":12,"v":31},{"m":2,"t":18,"v":36},{"m":2,"t":24,"v":38},{"m":2,"t":30,"v":42},{"m":2,"t":36,"v":45},{"m":2,"t":42,"v":48},{"m":2,"t":48,"v":62},{"m":2,"t":54,"v":60},{"m":2,"t":60,"v":66.5},{"m":2,"t":66,"v":67.5},{"m":2,"t":72,"v":62},{"m":2,"t":78,"v":68},{"m":2,"t":84,"v":70},{"m":2,"t":90,"v":74.5},{"m":2,"t":96,"v":73},{"m":2,"t":102,"v":76.3},{"m":2,"t":108,"v":75},{"m":2,"t":114,"v":78.4},{"m":2,"t":120,"v":79.1},{"m":2,"t":126,"v":81.2},{"m":2,"t":132,"v":78},{"m":2,"t":138,"v":83.3},{"m":2,"t":144,"v":80},{"m":2,"t":150,"v":84.7},{"m":2,"t":156,"v":72},{"m":2,"t":162,"v":68.2},{"m":2,"t":168,"v":66},
{"m":3,"t":0,"v":20},{"m":3,"t":6,"v":26},{"m":3,"t":12,"v":30},{"m":3,"t":18,"v":35},{"m":3,"t":24,"v":37},{"m":3,"t":30,"v":41},{"m":3,"t":36,"v":44},{"m":3,"t":42,"v":47},{"m":3,"t":48,"v":60},{"m":3,"t":54,"v":58},{"m":3,"t":60,"v":61},{"m":3,"t":66,"v":64},{"m":3,"t":72,"v":60},{"m":3,"t":78,"v":66},{"m":3,"t":84,"v":72},{"m":3,"t":90,"v":70},{"m":3,"t":96,"v":75},{"m":3,"t":102,"v":72},{"m":3,"t":108,"v":77},{"m":3,"t":114,"v":74},{"m":3,"t":120,"v":78},{"m":3,"t":126,"v":76},{"m":3,"t":132,"v":82},{"m":3,"t":138,"v":78},{"m":3,"t":144,"v":84},{"m":3,"t":150,"v":78},{"m":3,"t":156,"v":74},{"m":3,"t":162,"v":64},{"m":3,"t":168,"v":67.9},
{"m":4,"t":0,"v":20},{"m":4,"t":6,"v":25},{"m":4,"t":12,"v":29},{"m":4,"t":18,"v":33},{"m":4,"t":24,"v":36},{"m":4,"t":30,"v":39},{"m":4,"t":36,"v":43},{"m":4,"t":42,"v":46},{"m":4,"t":48,"v":58},{"m":4,"t":54,"v":55},{"m":4,"t":60,"v":60},{"m":4,"t":66,"v":58},{"m":4,"t":72,"v":57},{"m":4,"t":78,"v":63},{"m":4,"t":84,"v":68},{"m":4,"t":90,"v":66},{"m":4,"t":96,"v":72},{"m":4,"t":102,"v":74},{"m":4,"t":108,"v":70},{"m":4,"t":114,"v":76},{"m":4,"t":120,"v":73},{"m":4,"t":126,"v":79},{"m":4,"t":132,"v":76},{"m":4,"t":138,"v":82},{"m":4,"t":144,"v":76},{"m":4,"t":150,"v":82},{"m":4,"t":156,"v":70},{"m":4,"t":162,"v":62},{"m":4,"t":168,"v":63},
{"m":5,"t":0,"v":20},{"m":5,"t":6,"v":24.5},{"m":5,"t":12,"v":28},{"m":5,"t":18,"v":31},{"m":5,"t":24,"v":35},{"m":5,"t":30,"v":38},{"m":5,"t":36,"v":41},{"m":5,"t":42,"v":45},{"m":5,"t":48,"v":55},{"m":5,"t":54,"v":50},{"m":5,"t":60,"v":56},{"m":5,"t":66,"v":54},{"m":5,"t":72,"v":52},{"m":5,"t":78,"v":60},{"m":5,"t":84,"v":64},{"m":5,"t":90,"v":68},{"m":5,"t":96,"v":69},{"m":5,"t":102,"v":70},{"m":5,"t":108,"v":74},{"m":5,"t":114,"v":72},{"m":5,"t":120,"v":77},{"m":5,"t":126,"v":75},{"m":5,"t":132,"v":80},{"m":5,"t":138,"v":75},{"m":5,"t":144,"v":78},{"m":5,"t":150,"v":74},{"m":5,"t":156,"v":67},{"m":5,"t":162,"v":60},{"m":5,"t":168,"v":65},
{"m":6,"t":0,"v":20},{"m":6,"t":6,"v":25.5},{"m":6,"t":12,"v":27},{"m":6,"t":18,"v":30},{"m":6,"t":24,"v":34},{"m":6,"t":30,"v":37},{"m":6,"t":36,"v":40},{"m":6,"t":42,"v":44},{"m":6,"t":48,"v":52},{"m":6,"t":54,"v":48},{"m":6,"t":60,"v":52},{"m":6,"t":66,"v":56},{"m":6,"t":72,"v":48},{"m":6,"t":78,"v":55},{"m":6,"t":84,"v":60},{"m":6,"t":90,"v":62},{"m":6,"t":96,"v":66},{"m":6,"t":102,"v":71},{"m":6,"t":108,"v":68},{"m":6,"t":114,"v":73},{"m":6,"t":120,"v":70},{"m":6,"t":126,"v":77},{"m":6,"t":132,"v":74},{"m":6,"t":138,"v":80},{"m":6,"t":144,"v":73},{"m":6,"t":150,"v":76},{"m":6,"t":156,"v":64},{"m":6,"t":162,"v":61},{"m":6,"t":168,"v":62},
{"m":7,"t":0,"v":20},{"m":7,"t":6,"v":24},{"m":7,"t":12,"v":28.5},{"m":7,"t":18,"v":32},{"m":7,"t":24,"v":33},{"m":7,"t":30,"v":38},{"m":7,"t":36,"v":42},{"m":7,"t":42,"v":46},{"m":7,"t":48,"v":50},{"m":7,"t":54,"v":53},{"m":7,"t":60,"v":48},{"m":7,"t":66,"v":51},{"m":7,"t":72,"v":54},{"m":7,"t":78,"v":50},{"m":7,"t":84,"v":58},{"m":7,"t":90,"v":57},{"m":7,"t":96,"v":63},{"m":7,"t":102,"v":66},{"m":7,"t":108,"v":72},{"m":7,"t":114,"v":70},{"m":7,"t":120,"v":75},{"m":7,"t":126,"v":73},{"m":7,"t":132,"v":79},{"m":7,"t":138,"v":73},{"m":7,"t":144,"v":80},{"m":7,"t":150,"v":70},{"m":7,"t":156,"v":69},{"m":7,"t":162,"v":63},{"m":7,"t":168,"v":60},
{"m":8,"t":0,"v":20},{"m":8,"t":6,"v":23.5},{"m":8,"t":12,"v":26},{"m":8,"t":18,"v":29},{"m":8,"t":24,"v":32.5},{"m":8,"t":30,"v":36},{"m":8,"t":36,"v":39},{"m":8,"t":42,"v":43},{"m":8,"t":48,"v":48},{"m":8,"t":54,"v":46},{"m":8,"t":60,"v":50},{"m":8,"t":66,"v":47},{"m":8,"t":72,"v":45},{"m":8,"t":78,"v":52},{"m":8,"t":84,"v":54},{"m":8,"t":90,"v":60},{"m":8,"t":96,"v":58},{"m":8,"t":102,"v":68},{"m":8,"t":108,"v":65},{"m":8,"t":114,"v":75},{"m":8,"t":120,"v":72},{"m":8,"t":126,"v":78},{"m":8,"t":132,"v":75},{"m":8,"t":138,"v":77},{"m":8,"t":144,"v":74},{"m":8,"t":150,"v":72},{"m":8,"t":156,"v":62},{"m":8,"t":162,"v":59},{"m":8,"t":168,"v":61},
{"m":9,"t":0,"v":20},{"m":9,"t":6,"v":23},{"m":9,"t":12,"v":25},{"m":9,"t":18,"v":28},{"m":9,"t":24,"v":32},{"m":9,"t":30,"v":35.5},{"m":9,"t":36,"v":38.5},{"m":9,"t":42,"v":42},{"m":9,"t":48,"v":46},{"m":9,"t":54,"v":44},{"m":9,"t":60,"v":45},{"m":9,"t":66,"v":49},{"m":9,"t":72,"v":43},{"m":9,"t":78,"v":48},{"m":9,"t":84,"v":51},{"m":9,"t":90,"v":55},{"m":9,"t":96,"v":53},{"m":9,"t":102,"v":62},{"m":9,"t":108,"v":70},{"m":9,"t":114,"v":68},{"m":9,"t":120,"v":74},{"m":9,"t":126,"v":72},{"m":9,"t":132,"v":76},{"m":9,"t":138,"v":74},{"m":9,"t":144,"v":76},{"m":9,"t":150,"v":68},{"m":9,"t":156,"v":66},{"m":9,"t":162,"v":61},{"m":9,"t":168,"v":59},
{"m":10,"t":0,"v":20},{"m":10,"t":6,"v":22.5},{"m":10,"t":12,"v":25.5},{"m":10,"t":18,"v":28.5},{"m":10,"t":24,"v":33.5},{"m":10,"t":30,"v":37},{"m":10,"t":36,"v":40.5},{"m":10,"t":42,"v":41},{"m":10,"t":48,"v":44},{"m":10,"t":54,"v":42.5},{"m":10,"t":60,"v":42},{"m":10,"t":66,"v":41},{"m":10,"t":72,"v":41.5},{"m":10,"t":78,"v":44},{"m":10,"t":84,"v":45.5},{"m":10,"t":90,"v":47},{"m":10,"t":96,"v":44.5},{"m":10,"t":102,"v":48},{"m":10,"t":108,"v":53},{"m":10,"t":114,"v":59},{"m":10,"t":120,"v":65.5},{"m":10,"t":126,"v":74},{"m":10,"t":132,"v":73.5},{"m":10,"t":138,"v":76},{"m":10,"t":144,"v":72},{"m":10,"t":150,"v":66.5},{"m":10,"t":156,"v":63},{"m":10,"t":162,"v":58.5},{"m":10,"t":168,"v":58.5},
{"m":11,"t":0,"v":20},{"m":11,"t":6,"v":26.5},{"m":11,"t":12,"v":31.5},{"m":11,"t":18,"v":37},{"m":11,"t":24,"v":36.5},{"m":11,"t":30,"v":40},{"m":11,"t":36,"v":44},{"m":11,"t":42,"v":49},{"m":11,"t":48,"v":57},{"m":11,"t":54,"v":61},{"m":11,"t":60,"v":55},{"m":11,"t":66,"v":58},{"m":11,"t":72,"v":50},{"m":11,"t":78,"v":56},{"m":11,"t":84,"v":62},{"m":11,"t":90,"v":64},{"m":11,"t":96,"v":67},{"m":11,"t":102,"v":69},{"m":11,"t":108,"v":73},{"m":11,"t":114,"v":71},{"m":11,"t":120,"v":74},{"m":11,"t":126,"v":79},{"m":11,"t":132,"v":77},{"m":11,"t":138,"v":79},{"m":11,"t":144,"v":78},{"m":11,"t":150,"v":75},{"m":11,"t":156,"v":61},{"m":11,"t":162,"v":60},{"m":11,"t":168,"v":63},
{"m":12,"t":0,"v":20},{"m":12,"t":6,"v":27.5},{"m":12,"t":12,"v":32},{"m":12,"t":18,"v":34},{"m":12,"t":24,"v":39},{"m":12,"t":30,"v":43},{"m":12,"t":36,"v":46},{"m":12,"t":42,"v":48.5},{"m":12,"t":48,"v":64},{"m":12,"t":54,"v":52},{"m":12,"t":60,"v":58},{"m":12,"t":66,"v":46},{"m":12,"t":72,"v":55},{"m":12,"t":78,"v":47},{"m":12,"t":84,"v":56},{"m":12,"t":90,"v":52},{"m":12,"t":96,"v":60},{"m":12,"t":102,"v":64},{"m":12,"t":108,"v":67},{"m":12,"t":114,"v":74},{"m":12,"t":120,"v":71},{"m":12,"t":126,"v":73},{"m":12,"t":132,"v":81},{"m":12,"t":138,"v":76},{"m":12,"t":144,"v":82},{"m":12,"t":150,"v":72},{"m":12,"t":156,"v":68},{"m":12,"t":162,"v":65},{"m":12,"t":168,"v":61},
{"m":13,"t":0,"v":20},{"m":13,"t":6,"v":28},{"m":13,"t":12,"v":30.5},{"m":13,"t":18,"v":38},{"m":13,"t":24,"v":35},{"m":13,"t":30,"v":41.5},{"m":13,"t":36,"v":43},{"m":13,"t":42,"v":47.5},{"m":13,"t":48,"v":53},{"m":13,"t":54,"v":57},{"m":13,"t":60,"v":47},{"m":13,"t":66,"v":53},{"m":13,"t":72,"v":44},{"m":13,"t":78,"v":58},{"m":13,"t":84,"v":49},{"m":13,"t":90,"v":58},{"m":13,"t":96,"v":62},{"m":13,"t":102,"v":66},{"m":13,"t":108,"v":70},{"m":13,"t":114,"v":76},{"m":13,"t":120,"v":78},{"m":13,"t":126,"v":75},{"m":13,"t":132,"v":79},{"m":13,"t":138,"v":81},{"m":13,"t":144,"v":75},{"m":13,"t":150,"v":77},{"m":13,"t":156,"v":64},{"m":13,"t":162,"v":62},{"m":13,"t":168,"v":59},
{"m":14,"t":0,"v":20},{"m":14,"t":6,"v":24},{"m":14,"t":12,"v":29.5},{"m":14,"t":18,"v":32.5},{"m":14,"t":24,"v":38.5},{"m":14,"t":30,"v":44},{"m":14,"t":36,"v":45.5},{"m":14,"t":42,"v":45},{"m":14,"t":48,"v":59},{"m":14,"t":54,"v":49},{"m":14,"t":60,"v":53},{"m":14,"t":66,"v":62},{"m":14,"t":72,"v":58},{"m":14,"t":78,"v":53},{"m":14,"t":84,"v":66},{"m":14,"t":90,"v":61},{"m":14,"t":96,"v":70},{"m":14,"t":102,"v":73},{"m":14,"t":108,"v":71},{"m":14,"t":114,"v":77},{"m":14,"t":120,"v":76},{"m":14,"t":126,"v":80},{"m":14,"t":132,"v":74},{"m":14,"t":138,"v":78},{"m":14,"t":144,"v":86},{"m":14,"t":150,"v":74},{"m":14,"t":156,"v":71},{"m":14,"t":162,"v":59},{"m":14,"t":168,"v":64},
{"m":15,"t":0,"v":20},{"m":15,"t":6,"v":25},{"m":15,"t":12,"v":27.5},{"m":15,"t":18,"v":35.5},{"m":15,"t":24,"v":34},{"m":15,"t":30,"v":40.5},{"m":15,"t":36,"v":39.5},{"m":15,"t":42,"v":49.5},{"m":15,"t":48,"v":56},{"m":15,"t":54,"v":45},{"m":15,"t":60,"v":64},{"m":15,"t":66,"v":50},{"m":15,"t":72,"v":47},{"m":15,"t":78,"v":62},{"m":15,"t":84,"v":53},{"m":15,"t":90,"v":65},{"m":15,"t":96,"v":56},{"m":15,"t":102,"v":70},{"m":15,"t":108,"v":76},{"m":15,"t":114,"v":73},{"m":15,"t":120,"v":79},{"m":15,"t":126,"v":78},{"m":15,"t":132,"v":83},{"m":15,"t":138,"v":77},{"m":15,"t":144,"v":77},{"m":15,"t":150,"v":80},{"m":15,"t":156,"v":66},{"m":15,"t":162,"v":67},{"m":15,"t":168,"v":60},
{"m":16,"t":0,"v":20},{"m":16,"t":6,"v":26},{"m":16,"t":12,"v":29},{"m":16,"t":18,"v":31.5},{"m":16,"t":24,"v":37.5},{"m":16,"t":30,"v":39.5},{"m":16,"t":36,"v":44.5},{"m":16,"t":42,"v":43},{"m":16,"t":48,"v":61},{"m":16,"t":54,"v":55},{"m":16,"t":60,"v":50},{"m":16,"t":66,"v":60},{"m":16,"t":72,"v":52},{"m":16,"t":78,"v":66},{"m":16,"t":84,"v":57},{"m":16,"t":90,"v":72},{"m":16,"t":96,"v":64},{"m":16,"t":102,"v":75},{"m":16,"t":108,"v":78},{"m":16,"t":114,"v":69},{"m":16,"t":120,"v":73},{"m":16,"t":126,"v":76},{"m":16,"t":132,"v":78},{"m":16,"t":138,"v":73},{"m":16,"t":144,"v":81},{"m":16,"t":150,"v":71},{"m":16,"t":156,"v":75},{"m":16,"t":162,"v":61},{"m":16,"t":168,"v":62}
],
"bDot": [
{"t":2,"v":20.5},{"t":2,"v":21},
{"t":4,"v":21},{"t":4,"v":21.5},{"t":4,"v":22},
{"t":6,"v":21.5},{"t":6,"v":22},{"t":6,"v":22.5},{"t":6,"v":23},
{"t":8,"v":22},{"t":8,"v":23},{"t":8,"v":24},
{"t":10,"v":22},{"t":10,"v":23},{"t":10,"v":24},{"t":10,"v":25},
{"t":11,"v":22.5},{"t":11,"v":23.5},{"t":11,"v":24.5},
{"t":12,"v":23},{"t":12,"v":24},{"t":12,"v":25},{"t":12,"v":26},
{"t":13,"v":23},{"t":13,"v":24},{"t":13,"v":25.5},
{"t":14,"v":23},{"t":14,"v":24},{"t":14,"v":25},{"t":14,"v":26},{"t":14,"v":27},
{"t":15,"v":23},{"t":15,"v":24.5},{"t":15,"v":26},
{"t":16,"v":22.5},{"t":16,"v":23.5},{"t":16,"v":25},{"t":16,"v":26},{"t":16,"v":27.5},
{"t":17,"v":23},{"t":17,"v":24.5},{"t":17,"v":26.5},
{"t":18,"v":22.5},{"t":18,"v":24},{"t":18,"v":25.5},{"t":18,"v":27},{"t":18,"v":28.5},
{"t":19,"v":23.5},{"t":19,"v":25},{"t":19,"v":27},
{"t":20,"v":23},{"t":20,"v":24.5},{"t":20,"v":26},{"t":20,"v":27.5},{"t":20,"v":29},
{"t":21,"v":24},{"t":21,"v":26},{"t":21,"v":28},
{"t":22,"v":24},{"t":22,"v":25.5},{"t":22,"v":27},{"t":22,"v":28.5},{"t":22,"v":30},{"t":22,"v":31.5},
{"t":23,"v":25},{"t":23,"v":27},{"t":23,"v":29},
{"t":24,"v":25},{"t":24,"v":26.5},{"t":24,"v":28},{"t":24,"v":29.5},{"t":24,"v":31},{"t":24,"v":32.5},
{"t":26,"v":26},{"t":26,"v":27},{"t":26,"v":28.5},{"t":26,"v":30},{"t":26,"v":32},{"t":26,"v":34},
{"t":28,"v":27},{"t":28,"v":28},{"t":28,"v":29.5},{"t":28,"v":31},{"t":28,"v":33},{"t":28,"v":35},
{"t":30,"v":28.5},{"t":30,"v":30},{"t":30,"v":31.5},{"t":30,"v":33},{"t":30,"v":35},{"t":30,"v":36},
{"t":32,"v":28.5},{"t":32,"v":30},{"t":32,"v":31.5},{"t":32,"v":33.5},{"t":32,"v":35.5},{"t":32,"v":37.5},
{"t":33,"v":27},
{"t":34,"v":29},{"t":34,"v":30.5},{"t":34,"v":32.5},{"t":34,"v":34.5},{"t":34,"v":36.5},{"t":34,"v":38.5},
{"t":36,"v":28.5},{"t":36,"v":30},{"t":36,"v":32},{"t":36,"v":34},{"t":36,"v":36},{"t":36,"v":38},{"t":36,"v":40},
{"t":38,"v":28.5},{"t":38,"v":30},{"t":38,"v":32},{"t":38,"v":34},{"t":38,"v":36.5},{"t":38,"v":38.5},{"t":38,"v":41},{"t":38,"v":42},
{"t":40,"v":29},{"t":40,"v":31},{"t":40,"v":33},{"t":40,"v":35},{"t":40,"v":37},{"t":40,"v":39.5},{"t":40,"v":42},{"t":40,"v":44},
{"t":42,"v":28},{"t":42,"v":30},{"t":42,"v":32},{"t":42,"v":34.5},{"t":42,"v":37},{"t":42,"v":39.5},{"t":42,"v":42},{"t":42,"v":45},
{"t":44,"v":30},{"t":44,"v":32.5},{"t":44,"v":35},{"t":44,"v":37.5},{"t":44,"v":40},{"t":44,"v":42.5},{"t":44,"v":45},{"t":44,"v":48},
{"t":46,"v":31.5},{"t":46,"v":34},{"t":46,"v":36.5},{"t":46,"v":39},{"t":46,"v":41.5},{"t":46,"v":44},{"t":46,"v":47},{"t":46,"v":50},
{"t":48,"v":34.5},{"t":48,"v":37},{"t":48,"v":39.5},{"t":48,"v":42},{"t":48,"v":44.5},{"t":48,"v":47},{"t":48,"v":50},{"t":48,"v":53},
{"t":50,"v":35},{"t":50,"v":37.5},{"t":50,"v":40},{"t":50,"v":42.5},{"t":50,"v":45},{"t":50,"v":47.5},{"t":50,"v":50.5},{"t":50,"v":54},
{"t":52,"v":35.5},{"t":52,"v":38},{"t":52,"v":40.5},{"t":52,"v":43},{"t":52,"v":45.5},{"t":52,"v":48},{"t":52,"v":51},{"t":52,"v":54.5},
{"t":54,"v":36.5},{"t":54,"v":38.5},{"t":54,"v":41},{"t":54,"v":43.5},{"t":54,"v":46},{"t":54,"v":48.5},{"t":54,"v":51.5},{"t":54,"v":55},
{"t":56,"v":36.5},{"t":56,"v":39},{"t":56,"v":41.5},{"t":56,"v":44},{"t":56,"v":46.5},{"t":56,"v":49},{"t":56,"v":52},{"t":56,"v":55},
{"t":58,"v":36},{"t":58,"v":38.5},{"t":58,"v":41},{"t":58,"v":43.5},{"t":58,"v":46},{"t":58,"v":49},{"t":58,"v":52},{"t":58,"v":55.5},
{"t":60,"v":35.5},{"t":60,"v":38},{"t":60,"v":40.5},{"t":60,"v":43},{"t":60,"v":45.5},{"t":60,"v":48.5},{"t":60,"v":51.5},{"t":60,"v":54.5},{"t":60,"v":57},
{"t":62,"v":35},{"t":62,"v":37.5},{"t":62,"v":40},{"t":62,"v":42.5},{"t":62,"v":45},{"t":62,"v":48},{"t":62,"v":51},{"t":62,"v":54},{"t":62,"v":57.5},
{"t":64,"v":34},{"t":64,"v":36.5},{"t":64,"v":39},{"t":64,"v":42},{"t":64,"v":45},{"t":64,"v":48},{"t":64,"v":51},{"t":64,"v":54.5},{"t":64,"v":58.5},
{"t":66,"v":34},{"t":66,"v":36.5},{"t":66,"v":39.5},{"t":66,"v":42.5},{"t":66,"v":45.5},{"t":66,"v":48.5},{"t":66,"v":52},{"t":66,"v":55.5},{"t":66,"v":60},
{"t":68,"v":34.5},{"t":68,"v":37},{"t":68,"v":40},{"t":68,"v":43},{"t":68,"v":46},{"t":68,"v":49},{"t":68,"v":52},{"t":68,"v":55.5},{"t":68,"v":59},
{"t":70,"v":35},{"t":70,"v":37.5},{"t":70,"v":40.5},{"t":70,"v":43.5},{"t":70,"v":46.5},{"t":70,"v":49.5},{"t":70,"v":52.5},{"t":70,"v":56},
{"t":72,"v":35},{"t":72,"v":38},{"t":72,"v":41},{"t":72,"v":44},{"t":72,"v":47},{"t":72,"v":50},{"t":72,"v":53},{"t":72,"v":56.5},
{"t":74,"v":36},{"t":74,"v":39},{"t":74,"v":42},{"t":74,"v":45},{"t":74,"v":48},{"t":74,"v":51},{"t":74,"v":54},{"t":74,"v":57.5},{"t":74,"v":60},
{"t":76,"v":37},{"t":76,"v":40},{"t":76,"v":43},{"t":76,"v":46},{"t":76,"v":49},{"t":76,"v":52},{"t":76,"v":55},{"t":76,"v":58},{"t":76,"v":61},
{"t":78,"v":35},{"t":78,"v":38.5},{"t":78,"v":41.5},{"t":78,"v":44.5},{"t":78,"v":47.5},{"t":78,"v":50.5},{"t":78,"v":53.5},{"t":78,"v":56.5},{"t":78,"v":59.5},{"t":78,"v":62},
{"t":80,"v":36.5},{"t":80,"v":38.5},{"t":80,"v":41.5},{"t":80,"v":44.5},{"t":80,"v":48},{"t":80,"v":51},{"t":80,"v":54},{"t":80,"v":57},{"t":80,"v":60},{"t":80,"v":63},
{"t":82,"v":36},{"t":82,"v":39},{"t":82,"v":42},{"t":82,"v":45},{"t":82,"v":48.5},{"t":82,"v":52},{"t":82,"v":55},{"t":82,"v":58},{"t":82,"v":61},{"t":82,"v":64},
{"t":83,"v":37},
{"t":84,"v":39},{"t":84,"v":42},{"t":84,"v":45},{"t":84,"v":48},{"t":84,"v":51},{"t":84,"v":54},{"t":84,"v":57},{"t":84,"v":60},{"t":84,"v":63},{"t":84,"v":65},
{"t":86,"v":37},{"t":86,"v":39.5},{"t":86,"v":42.5},{"t":86,"v":45.5},{"t":86,"v":49},{"t":86,"v":52.5},{"t":86,"v":56},{"t":86,"v":59},{"t":86,"v":62},{"t":86,"v":64.5},
{"t":88,"v":39.5},{"t":88,"v":42.5},{"t":88,"v":45.5},{"t":88,"v":48.5},{"t":88,"v":52},{"t":88,"v":55.5},{"t":88,"v":58.5},{"t":88,"v":61.5},{"t":88,"v":64},
{"t":90,"v":40},{"t":90,"v":43},{"t":90,"v":46},{"t":90,"v":49.5},{"t":90,"v":53},{"t":90,"v":56.5},{"t":90,"v":59.5},{"t":90,"v":62.5},{"t":90,"v":65},
{"t":92,"v":38.5},{"t":92,"v":41.5},{"t":92,"v":45},{"t":92,"v":48.5},{"t":92,"v":52},{"t":92,"v":55.5},{"t":92,"v":58.5},{"t":92,"v":61.5},{"t":92,"v":64},{"t":92,"v":66},
{"t":94,"v":37.5},{"t":94,"v":41},{"t":94,"v":44.5},{"t":94,"v":48},{"t":94,"v":51.5},{"t":94,"v":55},{"t":94,"v":58.5},{"t":94,"v":61.5},{"t":94,"v":64.5},{"t":94,"v":66.5},
{"t":96,"v":37},{"t":96,"v":40.5},{"t":96,"v":44},{"t":96,"v":47.5},{"t":96,"v":51},{"t":96,"v":54.5},{"t":96,"v":58},{"t":96,"v":61},{"t":96,"v":64},{"t":96,"v":66.5},
{"t":98,"v":38},{"t":98,"v":42},{"t":98,"v":46},{"t":98,"v":50},{"t":98,"v":54},{"t":98,"v":57.5},{"t":98,"v":60.5},{"t":98,"v":63},{"t":98,"v":65.5},{"t":98,"v":67},
{"t":100,"v":39},{"t":100,"v":43},{"t":100,"v":47},{"t":100,"v":51},{"t":100,"v":55},{"t":100,"v":58.5},{"t":100,"v":61.5},{"t":100,"v":64},{"t":100,"v":66},{"t":100,"v":67.5},
{"t":102,"v":40},{"t":102,"v":44},{"t":102,"v":48},{"t":102,"v":52},{"t":102,"v":56},{"t":102,"v":59},{"t":102,"v":62},{"t":102,"v":64.5},{"t":102,"v":66.5},{"t":102,"v":68},
{"t":104,"v":41.5},{"t":104,"v":45.5},{"t":104,"v":49.5},{"t":104,"v":53.5},{"t":104,"v":57},{"t":104,"v":60},{"t":104,"v":62.5},{"t":104,"v":65},{"t":104,"v":67},{"t":104,"v":68.5},
{"t":106,"v":43.5},{"t":106,"v":47},{"t":106,"v":51},{"t":106,"v":55},{"t":106,"v":58},{"t":106,"v":61},{"t":106,"v":63.5},{"t":106,"v":65.5},{"t":106,"v":67.5},{"t":106,"v":69},
{"t":108,"v":45.5},{"t":108,"v":49},{"t":108,"v":52.5},{"t":108,"v":56},{"t":108,"v":59},{"t":108,"v":62},{"t":108,"v":64},{"t":108,"v":66},{"t":108,"v":68},{"t":108,"v":69.5},
{"t":110,"v":47},{"t":110,"v":50.5},{"t":110,"v":54},{"t":110,"v":57},{"t":110,"v":60},{"t":110,"v":62.5},{"t":110,"v":64.5},{"t":110,"v":66.5},{"t":110,"v":68.5},
{"t":112,"v":49},{"t":112,"v":52.5},{"t":112,"v":55.5},{"t":112,"v":58.5},{"t":112,"v":61},{"t":112,"v":63},{"t":112,"v":65},{"t":112,"v":67},{"t":112,"v":69},
{"t":114,"v":51},{"t":114,"v":54},{"t":114,"v":57},{"t":114,"v":59.5},{"t":114,"v":61.5},{"t":114,"v":63.5},{"t":114,"v":65.5},{"t":114,"v":67.5},{"t":114,"v":69.5},
{"t":116,"v":53},{"t":116,"v":56},{"t":116,"v":58.5},{"t":116,"v":60.5},{"t":116,"v":62.5},{"t":116,"v":64.5},{"t":116,"v":66.5},{"t":116,"v":68},{"t":116,"v":69.5},
{"t":118,"v":55},{"t":118,"v":57.5},{"t":118,"v":60},{"t":118,"v":62},{"t":118,"v":64},{"t":118,"v":66},{"t":118,"v":67.5},{"t":118,"v":69},{"t":118,"v":70},
{"t":120,"v":57},{"t":120,"v":59.5},{"t":120,"v":61.5},{"t":120,"v":63.5},{"t":120,"v":65.5},{"t":120,"v":67},{"t":120,"v":68.5},{"t":120,"v":70},
{"t":121,"v":60.5},{"t":121,"v":62.5},{"t":121,"v":64.5},{"t":121,"v":66.5},{"t":121,"v":68.5},
{"t":122,"v":57.5},{"t":122,"v":60},{"t":122,"v":62},{"t":122,"v":64},{"t":122,"v":65.5},{"t":122,"v":67},{"t":122,"v":68.5},{"t":122,"v":70},
{"t":123,"v":61},{"t":123,"v":63},{"t":123,"v":65},{"t":123,"v":67},{"t":123,"v":69},
{"t":124,"v":58},{"t":124,"v":60.5},{"t":124,"v":62.5},{"t":124,"v":64},{"t":124,"v":65.5},{"t":124,"v":67},{"t":124,"v":68.5},{"t":124,"v":70},{"t":124,"v":71},
{"t":125,"v":61.5},{"t":125,"v":63.5},{"t":125,"v":65.5},{"t":125,"v":67.5},{"t":125,"v":69.5},
{"t":126,"v":58.5},{"t":126,"v":61},{"t":126,"v":63},{"t":126,"v":64.5},{"t":126,"v":66},{"t":126,"v":67.5},{"t":126,"v":69},{"t":126,"v":70.5},
{"t":127,"v":62},{"t":127,"v":64},{"t":127,"v":66},{"t":127,"v":68},{"t":127,"v":70},{"t":127,"v":74},
{"t":128,"v":59.5},{"t":128,"v":62},{"t":128,"v":63.5},{"t":128,"v":65},{"t":128,"v":66.5},{"t":128,"v":68},{"t":128,"v":69.5},{"t":128,"v":71},
{"t":129,"v":62.5},{"t":129,"v":64.5},{"t":129,"v":66.5},{"t":129,"v":68.5},{"t":129,"v":70.5},
{"t":130,"v":61},{"t":130,"v":62.5},{"t":130,"v":64},{"t":130,"v":65.5},{"t":130,"v":67},{"t":130,"v":68.5},{"t":130,"v":70},{"t":130,"v":71.5},
{"t":131,"v":63},{"t":131,"v":65},{"t":131,"v":67},{"t":131,"v":69},{"t":131,"v":71},{"t":131,"v":75.5},
{"t":132,"v":62},{"t":132,"v":63.5},{"t":132,"v":65},{"t":132,"v":66.5},{"t":132,"v":68},{"t":132,"v":69.5},{"t":132,"v":71},{"t":132,"v":72},
{"t":133,"v":63},{"t":133,"v":65},{"t":133,"v":67},{"t":133,"v":69},{"t":133,"v":71},
{"t":134,"v":62},{"t":134,"v":63.5},{"t":134,"v":65},{"t":134,"v":66.5},{"t":134,"v":68},{"t":134,"v":69.5},{"t":134,"v":71},{"t":134,"v":72},
{"t":135,"v":63},{"t":135,"v":65},{"t":135,"v":67},{"t":135,"v":69},{"t":135,"v":70.5},
{"t":136,"v":61.5},{"t":136,"v":63},{"t":136,"v":64.5},{"t":136,"v":66},{"t":136,"v":67.5},{"t":136,"v":69},{"t":136,"v":70.5},{"t":136,"v":71.5},
{"t":137,"v":62.5},{"t":137,"v":64.5},{"t":137,"v":66.5},{"t":137,"v":68.5},{"t":137,"v":70.5},
{"t":138,"v":61},{"t":138,"v":62.5},{"t":138,"v":64},{"t":138,"v":65.5},{"t":138,"v":67},{"t":138,"v":68.5},{"t":138,"v":70},{"t":138,"v":71.5},{"t":138,"v":75},
{"t":139,"v":62},{"t":139,"v":64},{"t":139,"v":66},{"t":139,"v":68},{"t":139,"v":70},
{"t":140,"v":60},{"t":140,"v":61.5},{"t":140,"v":63},{"t":140,"v":64.5},{"t":140,"v":66},{"t":140,"v":67.5},{"t":140,"v":69},{"t":140,"v":70.5},
{"t":141,"v":61},{"t":141,"v":63},{"t":141,"v":65},{"t":141,"v":67},{"t":141,"v":69},
{"t":142,"v":58.5},{"t":142,"v":60.5},{"t":142,"v":62},{"t":142,"v":63.5},{"t":142,"v":65},{"t":142,"v":66.5},{"t":142,"v":68},{"t":142,"v":70},
{"t":143,"v":60},{"t":143,"v":62},{"t":143,"v":64},{"t":143,"v":66},{"t":143,"v":68},
{"t":144,"v":58},{"t":144,"v":60},{"t":144,"v":61.5},{"t":144,"v":63},{"t":144,"v":64.5},{"t":144,"v":66},{"t":144,"v":67.5},{"t":144,"v":69.5},
{"t":145,"v":59.5},{"t":145,"v":61.5},{"t":145,"v":63.5},{"t":145,"v":65.5},{"t":145,"v":67.5},
{"t":146,"v":58},{"t":146,"v":59.5},{"t":146,"v":61},{"t":146,"v":62.5},{"t":146,"v":64},{"t":146,"v":65.5},{"t":146,"v":67},{"t":146,"v":69},{"t":146,"v":73},
{"t":147,"v":59},{"t":147,"v":61},{"t":147,"v":63},{"t":147,"v":65},{"t":147,"v":67},
{"t":148,"v":58},{"t":148,"v":59.5},{"t":148,"v":61},{"t":148,"v":62.5},{"t":148,"v":64},{"t":148,"v":65.5},{"t":148,"v":67},{"t":148,"v":68},
{"t":149,"v":58.5},{"t":149,"v":60.5},{"t":149,"v":62.5},{"t":149,"v":64.5},{"t":149,"v":66},
{"t":150,"v":57.5},{"t":150,"v":59},{"t":150,"v":60.5},{"t":150,"v":62},{"t":150,"v":63.5},{"t":150,"v":65},{"t":150,"v":66.5},
{"t":151,"v":57.5},{"t":151,"v":59.5},{"t":151,"v":61.5},{"t":151,"v":63.5},{"t":151,"v":65},
{"t":152,"v":56},{"t":152,"v":57.5},{"t":152,"v":59},{"t":152,"v":60.5},{"t":152,"v":62},{"t":152,"v":63.5},{"t":152,"v":65},
{"t":153,"v":56},{"t":153,"v":58},{"t":153,"v":60},{"t":153,"v":62},{"t":153,"v":63.5},
{"t":154,"v":54},{"t":154,"v":55.5},{"t":154,"v":57},{"t":154,"v":58.5},{"t":154,"v":60},{"t":154,"v":61.5},{"t":154,"v":63},
{"t":155,"v":54.5},{"t":155,"v":56.5},{"t":155,"v":58.5},{"t":155,"v":60},{"t":155,"v":61.5},
{"t":156,"v":52.5},{"t":156,"v":54},{"t":156,"v":55.5},{"t":156,"v":57},{"t":156,"v":58.5},{"t":156,"v":60},{"t":156,"v":61.5},
{"t":157,"v":53},{"t":157,"v":55},{"t":157,"v":57},{"t":157,"v":58.5},{"t":157,"v":60},
{"t":158,"v":51.5},{"t":158,"v":53},{"t":158,"v":54.5},{"t":158,"v":56},{"t":158,"v":57.5},{"t":158,"v":59},{"t":158,"v":60.5},
{"t":159,"v":52},{"t":159,"v":54},{"t":159,"v":56},{"t":159,"v":57.5},{"t":159,"v":59},
{"t":160,"v":50.5},{"t":160,"v":52},{"t":160,"v":53.5},{"t":160,"v":55},{"t":160,"v":56.5},{"t":160,"v":58},{"t":160,"v":59.5},
{"t":161,"v":51},{"t":161,"v":53},{"t":161,"v":55},{"t":161,"v":56.5},{"t":161,"v":58},
{"t":162,"v":49.5},{"t":162,"v":51},{"t":162,"v":52.5},{"t":162,"v":54},{"t":162,"v":55.5},{"t":162,"v":57},{"t":162,"v":58.5},
{"t":163,"v":50},{"t":163,"v":52},{"t":163,"v":54},{"t":163,"v":55.5},{"t":163,"v":57},
{"t":164,"v":49},{"t":164,"v":50.5},{"t":164,"v":52},{"t":164,"v":53.5},{"t":164,"v":55},{"t":164,"v":56.5},{"t":164,"v":58},
{"t":165,"v":47},{"t":165,"v":49.5},{"t":165,"v":51.5},{"t":165,"v":53.5},{"t":165,"v":55},{"t":165,"v":56.5},
{"t":166,"v":48.5},{"t":166,"v":50},{"t":166,"v":51.5},{"t":166,"v":53},{"t":166,"v":54.5},{"t":166,"v":56},{"t":166,"v":57.5},
{"t":167,"v":49},{"t":167,"v":51},{"t":167,"v":53},{"t":167,"v":54.5},{"t":167,"v":56}
]
},
"hconcat": [
{
"width": 456, "height": 380,
"title": {"text": "(a)"},
"resolve": {"axis": {"x": "independent", "y": "independent"}},
"layer": [
 {"data": {"name": "aEnv"}, "mark": {"type": "area", "color": "#d0d0d0"},
  "encoding": {
   "x": {"field": "t", "type": "quantitative", "scale": {"domain": [0, 168], "nice": false, "zero": false},
    "axis": {"orient": "bottom", "values": [0,12,24,36,48,60,72,84,96,108,120,132,144,156,168], "labelExpr": "datum.value % 24 === 0 ? datum.label : ''", "labelFlush": false, "labelOverlap": false, "labelPadding": 8,
     "tickSize": {"condition": {"test": "datum.value % 24 === 0", "value": 9}, "value": 5},
     "grid": true, "gridOpacity": {"condition": {"test": "datum.value % 24 === 0 && datum.value > 0 && datum.value < 168", "value": 1}, "value": 0},
     "title": "Forecast TIme (h)", "titlePadding": 8, "zindex": 1}},
   "y": {"field": "lo", "type": "quantitative", "scale": {"domain": [10, 90], "nice": false, "zero": false},
    "axis": {"orient": "left", "values": [10,15,20,25,30,35,40,45,50,55,60,65,70,75,80,85,90], "labelExpr": "datum.value % 20 === 0 ? datum.label : ''", "labelFlush": false, "labelOverlap": false, "labelPadding": 9,
     "tickSize": {"condition": {"test": "datum.value % 20 === 0", "value": 9}, "value": 5},
     "grid": true, "gridOpacity": {"condition": {"test": "datum.value % 20 === 0", "value": 1}, "value": 0},
     "title": "Windspeed (m s⁻¹)", "titlePadding": 16, "zindex": 1}},
   "y2": {"field": "hi"}}},
 {"data": {"name": "aDot"}, "mark": {"type": "circle", "color": "black", "size": 17, "opacity": 1},
  "encoding": {"x": {"field": "t", "type": "quantitative", "axis": null}, "y": {"field": "v", "type": "quantitative", "axis": null}}},
 {"data": {"name": "aEnv"}, "mark": {"type": "line", "color": "black", "strokeWidth": 4, "strokeJoin": "miter"},
  "encoding": {"x": {"field": "t", "type": "quantitative", "axis": null}, "y": {"field": "hi", "type": "quantitative", "axis": null}}},
 {"data": {"name": "aEnv"}, "mark": {"type": "line", "color": "black", "strokeWidth": 4, "strokeJoin": "miter"},
  "encoding": {"x": {"field": "t", "type": "quantitative", "axis": null}, "y": {"field": "lo", "type": "quantitative", "axis": null}}},
 {"data": {"name": "aBand"}, "mark": {"type": "area", "color": "#ff0000", "opacity": 0.2},
  "encoding": {"x": {"field": "t", "type": "quantitative", "axis": null}, "y": {"field": "lo", "type": "quantitative", "axis": null}, "y2": {"field": "hi"}}},
 {"data": {"name": "aRed"}, "mark": {"type": "line", "color": "#ff0000", "strokeWidth": 1.5},
  "encoding": {
   "x": {"field": "t", "type": "quantitative", "axis": {"orient": "top", "values": [0,12,24,36,48,60,72,84,96,108,120,132,144,156,168], "labels": false, "grid": false, "tickSize": {"condition": {"test": "datum.value % 24 === 0", "value": 9}, "value": 5}, "title": "SKEBS-syno", "titlePadding": 7, "zindex": 1}},
   "y": {"field": "v", "type": "quantitative", "axis": {"orient": "right", "values": [10,15,20,25,30,35,40,45,50,55,60,65,70,75,80,85,90], "labels": false, "grid": false, "tickSize": {"condition": {"test": "datum.value % 20 === 0", "value": 9}, "value": 5}, "title": null, "zindex": 1}},
   "detail": {"field": "m", "type": "nominal"}}}
]
},
{
"width": 455, "height": 380,
"title": {"text": "(b)"},
"resolve": {"axis": {"x": "independent", "y": "independent"}},
"layer": [
 {"data": {"name": "bEnv"}, "mark": {"type": "area", "color": "#d0d0d0"},
  "encoding": {
   "x": {"field": "t", "type": "quantitative", "scale": {"domain": [0, 168], "nice": false, "zero": false},
    "axis": {"orient": "bottom", "values": [0,12,24,36,48,60,72,84,96,108,120,132,144,156,168], "labelExpr": "datum.value % 24 === 0 ? datum.label : ''", "labelFlush": false, "labelOverlap": false, "labelPadding": 8,
     "tickSize": {"condition": {"test": "datum.value % 24 === 0", "value": 9}, "value": 5},
     "grid": true, "gridOpacity": {"condition": {"test": "datum.value % 24 === 0 && datum.value > 0 && datum.value < 168", "value": 1}, "value": 0},
     "title": "Forecast TIme (h)", "titlePadding": 8, "zindex": 1}},
   "y": {"field": "lo", "type": "quantitative", "scale": {"domain": [10, 90], "nice": false, "zero": false},
    "axis": {"orient": "left", "values": [10,15,20,25,30,35,40,45,50,55,60,65,70,75,80,85,90], "labels": false,
     "tickSize": {"condition": {"test": "datum.value % 20 === 0", "value": 9}, "value": 5},
     "grid": true, "gridOpacity": {"condition": {"test": "datum.value % 20 === 0", "value": 1}, "value": 0},
     "title": null, "zindex": 1}},
   "y2": {"field": "hi"}}},
 {"data": {"name": "bDot"}, "mark": {"type": "circle", "color": "black", "size": 17, "opacity": 1},
  "encoding": {"x": {"field": "t", "type": "quantitative", "axis": null}, "y": {"field": "v", "type": "quantitative", "axis": null}}},
 {"data": {"name": "bEnv"}, "mark": {"type": "line", "color": "black", "strokeWidth": 4, "strokeJoin": "miter"},
  "encoding": {"x": {"field": "t", "type": "quantitative", "axis": null}, "y": {"field": "hi", "type": "quantitative", "axis": null}}},
 {"data": {"name": "bEnv"}, "mark": {"type": "line", "color": "black", "strokeWidth": 4, "strokeJoin": "miter"},
  "encoding": {"x": {"field": "t", "type": "quantitative", "axis": null}, "y": {"field": "lo", "type": "quantitative", "axis": null}}},
 {"data": {"name": "bBand"}, "mark": {"type": "area", "color": "#ff0000", "opacity": 0.2},
  "encoding": {"x": {"field": "t", "type": "quantitative", "axis": null}, "y": {"field": "lo", "type": "quantitative", "axis": null}, "y2": {"field": "hi"}}},
 {"data": {"name": "bRed"}, "mark": {"type": "line", "color": "#ff0000", "strokeWidth": 1.5},
  "encoding": {
   "x": {"field": "t", "type": "quantitative", "axis": {"orient": "top", "values": [0,12,24,36,48,60,72,84,96,108,120,132,144,156,168], "labels": false, "grid": false, "tickSize": {"condition": {"test": "datum.value % 24 === 0", "value": 9}, "value": 5}, "title": "SKEBS-conv", "titlePadding": 7, "zindex": 1}},
   "y": {"field": "v", "type": "quantitative", "axis": {"orient": "right", "values": [10,15,20,25,30,35,40,45,50,55,60,65,70,75,80,85,90], "labels": false, "grid": false, "tickSize": {"condition": {"test": "datum.value % 20 === 0", "value": 9}, "value": 5}, "title": null, "zindex": 1}},
   "detail": {"field": "m", "type": "nominal"}}}
]
}
]
}
